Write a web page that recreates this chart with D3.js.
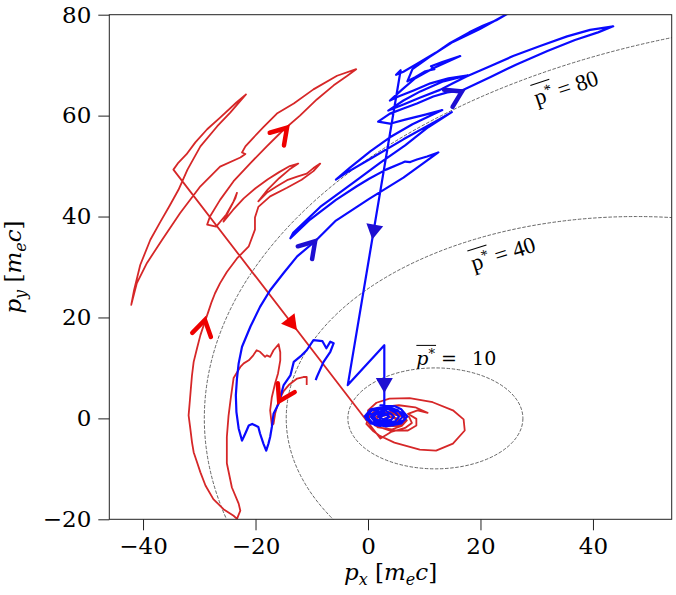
<!DOCTYPE html>
<html>
<head>
<meta charset="utf-8">
<script src="https://cdn.jsdelivr.net/npm/d3@7"></script>
<style>
  body { margin: 0; background: #fff; }
  svg { display: block; }
</style>
</head>
<body>
<div id="chart"></div>
<script>
var svgWidth = 676;
var svgHeight = 595;

var margin = { top: 14.7, right: 4.3, bottom: 75.7, left: 109.3 };
var width = svgWidth - margin.left - margin.right;
var height = svgHeight - margin.top - margin.bottom;

// tick values
var xTicks = [-40, -20, 0, 20, 40];
var yTicks = [-20, 0, 20, 40, 60, 80];

// constant p* contours (drawn as ellipses of a boosted frame)
var pStarLevels = [10, 40, 80];
var frameGamma = 1.556;
var ringLabelAt = [[8.6, 10.6], [24.0, 32.7], [35.2, 65.6]];
var ringLabelTilt = [0, -17.5, -18.5];

// red particle, (px, py) in m_e c
var redTrack = [
  [-10.9, 6.6], [-10.9, 8.2], [-11.5, 8.2], [-12.6, 7.9], [-14.1, 6.6], [-15.0, 5.4], [-15.9, 3.4], [-16.5, 1.0], [-16.8, -1.1],
  [-17.1, -1.4], [-17.4, 1.6], [-17.1, 4.2], [-16.5, 7.0], [-16.0, 8.9], [-15.6, 11.5], [-15.6, 13.1], [-15.9, 14.7],
  [-16.8, 13.5], [-17.4, 12.2], [-18.0, 12.5], [-18.3, 12.2], [-19.2, 13.2], [-19.8, 13.5], [-20.4, 12.5], [-21.2, 11.5], [-22.1, 10.9], [-22.7, 10.2],
  [-23.9, 8.0], [-24.4, 4.0], [-24.8, 0.5], [-25.1, -3.7], [-25.1, -8.9], [-24.2, -13.7], [-23.0, -16.9], [-22.7, -18.3], [-23.3, -19.9],
  [-23.9, -19.3], [-25.7, -18.0], [-27.5, -16.0], [-28.9, -13.3], [-29.8, -10.7], [-30.4, -8.7], [-31.0, -6.7], [-31.3, -4.7], [-31.6, -2.0],
  [-31.9, 0.6], [-31.7, 3.2], [-31.5, 5.9], [-31.3, 8.5], [-31.0, 11.2], [-30.4, 13.9], [-29.8, 16.5], [-29.2, 18.5], [-28.4, 21.1],
  [-27.8, 23.1], [-27.2, 24.8], [-26.3, 26.8], [-25.1, 29.0], [-23.3, 31.7], [-21.2, 34.1], [-20.1, 37.4],
  [-20.1, 39.8], [-19.5, 41.9], [-17.4, 44.0], [-14.4, 45.7], [-11.8, 47.3], [-9.7, 49.0], [-8.5, 50.5],
  [-9.7, 49.6], [-10.9, 48.5], [-12.6, 47.9], [-14.4, 47.2], [-16.2, 46.0], [-18.0, 44.7], [-19.5, 43.0],
  [-17.8, 45.4], [-15.8, 47.6], [-14.0, 49.3], [-12.4, 50.5], [-13.9, 50.0], [-15.8, 48.8], [-17.8, 47.4], [-20.0, 45.6],
  [-22.1, 43.6], [-24.0, 41.3], [-25.7, 39.0],
  [-24.6, 41.5], [-23.6, 43.6], [-23.3, 44.7], [-23.9, 43.0], [-25.2, 40.4], [-27.0, 38.0],
  [-28.6, 38.4], [-28.1, 40.0], [-26.3, 43.3], [-23.9, 47.0], [-20.9, 50.6], [-18.0, 53.9], [-15.1, 57.1], [-12.1, 60.0],
  [-9.1, 63.2], [-6.1, 66.0], [-3.8, 67.8], [-2.1, 69.2],
  [-5.5, 67.9], [-9.7, 65.2], [-13.2, 62.4], [-16.2, 60.4], [-18.6, 57.7], [-20.4, 55.6], [-21.8, 53.9], [-22.4, 52.7],
  [-21.8, 52.4], [-22.7, 51.7], [-26.3, 49.9], [-29.8, 46.0], [-33.4, 40.7], [-36.6, 35.4], [-39.3, 30.8], [-41.1, 26.8], [-42.1, 22.5],
  [-41.6, 25.4], [-40.5, 30.4], [-38.7, 35.4], [-36.9, 39.0], [-35.2, 42.3], [-33.7, 45.3], [-32.1, 49.3], [-29.8, 53.9],
  [-26.8, 57.9], [-24.5, 60.6], [-21.7, 64.2],
  [-23.4, 62.6], [-26.3, 59.6], [-28.6, 57.3], [-30.7, 54.7], [-32.3, 52.3], [-33.7, 50.7], [-34.6, 49.3],
  [2.2, -4.0],
  [4.1, -2.7], [6.6, -1.9], [7.8, -0.9], [7.3, 0.3], [5.2, 1.1], [2.8, 1.1], [1.3, 0.2], [1.5, -1.0], [3.2, -1.6], [5.3, -1.5],
  [6.6, -0.7], [6.2, 0.4], [4.4, 0.8], [2.5, 0.5], [2.0, -0.5], [3.3, -1.2], [5.0, -1.0], [5.6, -0.2], [4.4, 0.3], [3.0, 0.0], [2.4, -0.9],
  [1.2, -1.4], [3.8, -2.4], [7.1, -2.4], [8.6, -1.4], [8.6, -0.1], [7.1, 0.9], [8.8, 1.6], [10.6, 1.1], [8.4, 2.2], [5.5, 2.6],
  [2.8, 2.3], [0.9, 1.2], [0.0, -0.1], [-0.3, -1.1], [0.8, -2.4], [2.0, -3.4], [4.7, -4.8], [9.2, -6.2], [12.1, -6.4], [15.1, -5.0],
  [17.2, -2.4], [17.0, -0.2], [15.1, 1.6], [11.5, 3.2], [7.4, 4.0], [3.8, 3.9], [1.5, 3.1], [0.0, 1.6], [0.2, -0.3], [1.8, -1.8],
  [4.2, -2.2], [6.0, -1.5], [6.9, -0.4], [6.0, 0.7], [4.0, 1.3], [2.2, 0.9], [1.6, -0.2], [2.8, -1.0], [4.6, -1.1], [5.2, -0.3], [4.0, 0.4]
];

// blue particle
var blueTrack = [
  [-9.3, 7.6], [-9.1, 8.2], [-7.9, 11.2], [-6.7, 13.2], [-6.1, 14.9], [-6.7, 15.2], [-7.4, 13.9], [-8.1, 15.3], [-9.7, 15.5],
  [-10.9, 13.5], [-11.8, 12.5], [-13.2, 11.2], [-13.8, 8.5], [-15.0, 6.6],
  [-15.9, 2.9], [-16.8, 0.9], [-17.1, -1.7], [-17.4, -3.7], [-17.7, -5.0], [-18.1, -6.4],
  [-18.6, -5.0], [-19.2, -3.0], [-19.5, -1.7], [-20.6, -1.1], [-21.2, -1.4], [-21.7, -2.7], [-22.1, -3.7], [-22.4, -4.4],
  [-23.0, -2.0], [-23.4, 1.3], [-23.5, 4.6], [-23.3, 7.9], [-23.0, 10.9], [-22.4, 14.2],
  [-20.9, 18.2], [-19.2, 22.1], [-17.4, 25.4], [-15.0, 28.8], [-12.6, 32.1], [-9.4, 35.1],
  [-5.7, 39.2], [0.2, 43.5], [6.3, 47.7], [12.5, 52.7],
  [10.5, 51.9], [8.7, 51.3], [7.5, 50.8], [6.6, 50.9], [6.0, 50.6], [3.2, 49.3], [0.2, 47.5], [-2.0, 46.0], [-5.7, 43.3],
  [-10.3, 39.4], [-13.8, 35.7],
  [-13.3, 36.8], [-8.5, 41.9], [-2.6, 46.7], [2.2, 50.7], [6.6, 54.1], [10.7, 57.7], [14.9, 60.7],
  [12.1, 58.9], [6.3, 55.3], [0.2, 51.3], [-4.1, 48.5], [-5.7, 47.3],
  [-3.2, 49.7], [0.4, 52.9], [3.9, 55.7], [7.9, 58.3], [13.2, 61.1],
  [10.2, 60.2], [6.6, 59.2], [3.9, 58.4], [1.8, 58.8],
  [3.9, 60.4], [6.3, 61.4], [8.7, 62.4], [11.6, 63.8], [14.1, 64.6], [16.7, 65.0], [21.7, 67.6], [26.5, 70.2], [31.9, 72.8],
  [36.8, 75.0], [40.9, 76.5], [43.6, 77.7],
  [39.5, 77.0], [35.4, 75.7], [30.6, 73.8], [25.8, 71.8], [21.7, 69.8], [17.6, 67.8], [15.1, 66.4], [12.8, 65.1], [9.3, 63.6],
  [6.3, 62.2], [3.6, 61.0],
  [6.3, 63.0], [9.3, 64.8], [13.4, 66.8], [17.8, 68.0],
  [14.3, 67.4], [11.1, 66.4], [8.1, 65.0], [5.4, 63.8], [3.9, 63.0],
  [6.1, 65.2], [8.4, 67.4], [11.6, 69.4], [16.4, 71.8], [13.2, 70.6], [11.2, 69.8], [11.8, 69.2], [10.2, 68.8], [8.4, 67.6], [7.0, 66.8],
  [7.9, 69.2], [10.9, 71.6], [15.1, 74.6], [19.8, 77.1], [24.0, 79.7], [26.2, 81.5], [27.4, 82.5],
  [25.6, 80.7], [22.8, 78.9], [20.4, 77.8], [18.0, 76.5], [14.6, 74.4], [12.1, 72.5], [8.6, 70.2], [6.3, 68.7], [5.0, 68.1], [5.8, 69.0],
  [-3.6, 6.6], [2.9, 14.5], [2.9, 2.6],
  [2.2, 2.6], [4.8, 2.4], [5.9, 1.8], [7.0, 0.4], [5.9, -1.0], [3.2, -1.6], [0.5, -1.0], [-0.6, 0.4], [0.5, 1.8], [3.2, 2.4],
  [5.3, 1.6], [6.2, 0.4], [5.3, -0.8], [3.0, -1.3], [0.7, -0.8], [-0.2, 0.4], [0.7, 1.6], [3.0, 2.1],
  [4.8, 1.2], [5.5, 0.3], [4.8, -0.6], [3.0, -1.0], [1.2, -0.6], [0.5, 0.3], [1.2, 1.2], [3.0, 1.6],
  [4.1, 0.9], [4.6, 0.3], [4.1, -0.3], [2.8, -0.6], [1.5, -0.3], [1.0, 0.3], [1.5, 0.9], [2.8, 1.2],
  [3.8, 0.3], [2.8, -0.2], [1.8, 0.3], [2.8, 0.8], [0.2, 0.9], [-0.3, -0.2], [1.2, -1.3], [2.2, -1.5], [0.8, 0.0], [1.9, 1.9],
  [4.0, 1.9], [6.3, 1.0], [6.6, -0.2], [4.4, -1.4], [2.0, -1.2], [2.2, 0.4], [3.6, 0.9], [3.4, -0.5]
];

// open arrowheads: [tipX, tipY, tailX, tailY]
var redChevrons = [[-29.0, 19.5, -29.4, 17.5], [-14.4, 57.6, -15.6, 56.1], [-15.8, 3.4, -15.0, 5.1]];
var blueChevrons = [[-9.4, 35.1, -10.6, 33.6], [16.7, 64.8, 15.1, 63.9]];

// filled arrowheads on the jumps: [atX, atY, fromX, fromY, toX, toY]
var redTriangles = [[-13.5, 18.7, -34.6, 49.3, 2.2, -4.0]];
var blueTriangles = [[1.0, 37.0, 5.8, 69.0, -3.6, 6.6], [2.9, 6.6, 2.9, 14.5, 2.9, 2.6]];

var svg = d3.select("#chart")
  .append("svg")
  .attr("width", svgWidth)
  .attr("height", svgHeight);

var chartGroup = svg.append("g")
  .attr("transform", `translate(${margin.left}, ${margin.top})`);

var x = d3.scaleLinear().domain([-46, 54]).range([0, width]);
var y = d3.scaleLinear().domain([-20, 80]).range([height, 0]);

chartGroup.append("clipPath")
  .attr("id", "plot-clip")
  .append("rect")
  .attr("width", width)
  .attr("height", height);

var plot = chartGroup.append("g").attr("clip-path", "url(#plot-clip)");

// dashed p* rings
var beta = Math.sqrt(1 - 1 / (frameGamma * frameGamma));
plot.selectAll(".ring")
  .data(pStarLevels)
  .enter()
  .append("ellipse")
  .attr("class", "ring")
  .attr("cx", p => x(frameGamma * beta * Math.sqrt(1 + p * p)))
  .attr("cy", y(0))
  .attr("rx", p => x(frameGamma * p) - x(0))
  .attr("ry", p => y(0) - y(p))
  .attr("fill", "none")
  .attr("stroke", "#555")
  .attr("stroke-width", 0.9)
  .attr("stroke-dasharray", "3.5,1.6");

var line = d3.line()
  .x(d => x(d[0]))
  .y(d => y(d[1]));

plot.append("path")
  .datum(redTrack)
  .attr("d", line)
  .attr("fill", "none")
  .attr("stroke", "#d62728")
  .attr("stroke-width", 1.8)
  .attr("stroke-linejoin", "round");

plot.append("path")
  .datum(blueTrack)
  .attr("d", line)
  .attr("fill", "none")
  .attr("stroke", "#0a0aff")
  .attr("stroke-width", 2.2)
  .attr("stroke-linejoin", "round");

// arrowheads
function chevron(a) {
  var tx = x(a[0]), ty = y(a[1]);
  var ang = Math.atan2(ty - y(a[3]), tx - x(a[2]));
  var len = 18, half = 32 * Math.PI / 180;
  var p1 = [tx - len * Math.cos(ang - half), ty - len * Math.sin(ang - half)];
  var p2 = [tx - len * Math.cos(ang + half), ty - len * Math.sin(ang + half)];
  return "M" + p1 + "L" + tx + "," + ty + "L" + p2;
}

function triangle(a) {
  var cx = x(a[0]), cy = y(a[1]);
  var ang = Math.atan2(y(a[5]) - y(a[3]), x(a[4]) - x(a[2]));
  var ux = Math.cos(ang), uy = Math.sin(ang);
  var nx = -uy, ny = ux;
  var tip = [cx + 8 * ux, cy + 8 * uy];
  var b1 = [cx - 7 * ux + 8.5 * nx, cy - 7 * uy + 8.5 * ny];
  var b2 = [cx - 7 * ux - 8.5 * nx, cy - 7 * uy - 8.5 * ny];
  return "M" + tip + "L" + b1 + "L" + b2 + "Z";
}

chartGroup.selectAll(".red-chev")
  .data(redChevrons)
  .enter()
  .append("path")
  .attr("class", "red-chev")
  .attr("d", chevron)
  .attr("fill", "none")
  .attr("stroke", "#ee0000")
  .attr("stroke-width", 4.5)
  .attr("stroke-linecap", "round");

chartGroup.selectAll(".blue-chev")
  .data(blueChevrons)
  .enter()
  .append("path")
  .attr("class", "blue-chev")
  .attr("d", chevron)
  .attr("fill", "none")
  .attr("stroke", "#1e0fd2")
  .attr("stroke-width", 4.5)
  .attr("stroke-linecap", "round");

chartGroup.selectAll(".red-tri")
  .data(redTriangles)
  .enter()
  .append("path")
  .attr("d", triangle)
  .attr("fill", "#ee0000");

chartGroup.selectAll(".blue-tri")
  .data(blueTriangles)
  .enter()
  .append("path")
  .attr("d", triangle)
  .attr("fill", "#1e0fd2");

// ring labels  p* = ...
pStarLevels.forEach(function(p, i) {
  var g = chartGroup.append("g")
    .attr("transform", `translate(${x(ringLabelAt[i][0])}, ${y(ringLabelAt[i][1])}) rotate(${ringLabelTilt[i]})`);
  var upright = i > 0;
  var t = g.append("text")
    .attr("font-family", upright ? "Liberation Serif" : "DejaVu Serif")
    .attr("font-size", upright ? 23 : 19)
    .attr("text-anchor", upright ? "middle" : "start")
    .attr("dy", upright ? 8 : 0);
  t.append("tspan").attr("font-style", upright ? "normal" : "italic").text("p");
  t.append("tspan").attr("font-size", upright ? 15 : 13).attr("dy", -7).text("*");
  t.append("tspan").attr("dy", 7).text(" = ");
  t.append("tspan").attr("dx", upright ? 0 : 9).text(p);
  var node = t.node();
  var w = node.getSubStringLength(0, 2);
  var total = node.getComputedTextLength();
  var x0 = upright ? -total / 2 : 0;
  var yo = upright ? -13 : -19.5;
  g.append("line")
    .attr("x1", x0).attr("x2", x0 + w + 1)
    .attr("y1", yo).attr("y2", yo)
    .attr("stroke", "#000")
    .attr("stroke-width", 1);
});

// axes
var bottomAxis = d3.axisBottom(x).tickValues(xTicks).tickSize(11).tickPadding(7);
var leftAxis = d3.axisLeft(y).tickValues(yTicks).tickSize(11).tickPadding(7);

[[bottomAxis, `translate(0, ${height})`], [leftAxis, null]].forEach(function(a) {
  var g = chartGroup.append("g").call(a[0]);
  if (a[1]) g.attr("transform", a[1]);
  g.attr("font-family", "DejaVu Serif").attr("font-size", 23);
  g.select(".domain").remove();
  g.selectAll("line").attr("stroke", "#222").attr("stroke-width", 1);
  g.selectAll("text").attr("fill", "#000");
});

chartGroup.append("rect")
  .attr("width", width)
  .attr("height", height)
  .attr("fill", "none")
  .attr("stroke", "#222")
  .attr("stroke-width", 1);

// axis titles
function axisTitle(sel, sub) {
  var t = sel.append("text")
    .attr("font-family", "DejaVu Serif")
    .attr("font-size", 23)
    .attr("text-anchor", "middle");
  t.append("tspan").attr("font-style", "italic").text("p");
  t.append("tspan").attr("font-style", "italic").attr("font-size", 16).attr("dy", 5).text(sub);
  t.append("tspan").attr("dy", -5).text(" [");
  t.append("tspan").attr("font-style", "italic").text("m");
  t.append("tspan").attr("font-style", "italic").attr("font-size", 16).attr("dy", 5).text("e");
  t.append("tspan").attr("font-style", "italic").attr("dy", -5).text("c");
  t.append("tspan").text("]");
}

axisTitle(chartGroup.append("g")
  .attr("transform", `translate(${width / 2}, ${height + 61})`), "x");
axisTitle(chartGroup.append("g")
  .attr("transform", `translate(${21 - margin.left}, ${height / 2}) rotate(-90)`), "y");
</script>
</body>
</html>
